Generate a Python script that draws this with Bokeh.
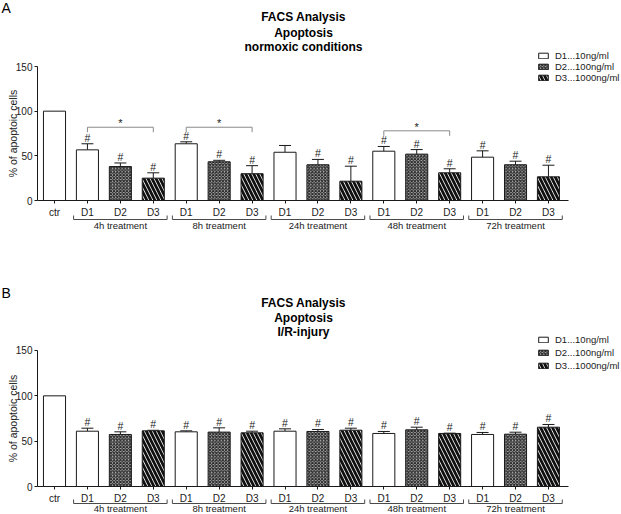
import numpy as np
from bokeh.plotting import figure
from bokeh.models import (ColumnDataSource, Whisker, TeeHead, FixedTicker, Legend,
                          LegendItem, Range1d)
from bokeh.layouts import column
from bokeh.embed import file_html
from bokeh.resources import INLINE
from bokeh.core.properties import value

# ---------------- data ----------------
bar_labels = ["ctr", "D1", "D2", "D3", "D1", "D2", "D3", "D1", "D2", "D3",
              "D1", "D2", "D3", "D1", "D2", "D3"]
doses = ["D1", "D2", "D3"]
dose_legend = ["D1...10ng/ml", "D2...100ng/ml", "D3...1000ng/ml"]
groups = ["4h treatment", "8h treatment", "24h treatment", "48h treatment", "72h treatment"]
y_ticks = [0, 50, 100, 150]
y_label = "% of apoptoic cells"

title_a = ["FACS Analysis", "Apoptosis", "normoxic conditions"]
a_mean = [100, 56.7, 38.0, 25.0, 63.5, 43.3, 30.0, 54.0, 40.0, 21.6, 55.2, 51.9, 31.0, 48.5, 40.0, 26.5]
a_err = [0, 6.8, 4.0, 6.0, 2.2, 1.7, 9.0, 7.6, 6.0, 16.8, 5.3, 5.1, 4.5, 7.1, 4.0, 13.0]
a_hash = [0, 1, 1, 1, 1, 1, 1, 0, 1, 1, 1, 1, 1, 1, 1, 1]
a_sig_from = [1, 4, 10]
a_sig_to = [3, 6, 12]
a_sig_y = [82, 82, 78]

title_b = ["FACS Analysis", "Apoptosis", "I/R-injury"]
b_mean = [100, 61.0, 57.4, 61.4, 60.3, 60.0, 59.2, 61.0, 60.7, 62.1, 58.5, 62.5, 58.5, 57.4, 57.7, 65.4]
b_err = [0, 3.3, 2.9, 0.6, 1.1, 4.7, 1.8, 2.6, 2.2, 2.2, 2.2, 2.9, 0.3, 2.2, 2.2, 3.0]
b_hash = [0, 1, 1, 1, 1, 1, 1, 1, 1, 1, 1, 1, 1, 1, 1, 1]
b_sig_from = []
b_sig_to = []
b_sig_y = []

# ---------------- styling ----------------
FONT = "Liberation Sans"
W = 620
PX = 32.93               # pixels per bar slot
CTR_PX = 54              # page x of first bar centre
X_START = -CTR_PX / PX
X_END = X_START + W / PX
Y_AXIS_X = (37 - CTR_PX) / PX
AXIS_END = (568 - CTR_PX) / PX
BAR_W = 0.67
INK = "#1a1a1a"

STYLE = {
    "ctr": dict(fill_color="white"),
    "D1": dict(fill_color="white"),
    "D2": dict(fill_color="#b8b8b8", hatch_pattern="diagonal_cross", hatch_scale=3.2,
               hatch_weight=1.2, hatch_color="#2a2a2a"),
    "D3": dict(fill_color="white", hatch_pattern="left_diagonal_line", hatch_scale=8,
               hatch_weight=2.8, hatch_color="#111111"),
}


def px_x(px):
    return (px - CTR_PX) / PX


def make_panel(letter, letter_px, titles, title_px, means, errs, hashes,
               sig_from, sig_to, sig_y, height, zero_px, scale, leg_top_px, leg_row_px,
               below_px):
    y_top = zero_px / scale
    y_bot = -(height - zero_px) / scale
    p = figure(width=W, height=height, output_backend="svg", toolbar_location=None,
               x_range=Range1d(X_START, X_END), y_range=Range1d(y_bot, y_top),
               min_border_left=0, min_border_right=0, min_border_top=0,
               min_border_bottom=0)
    p.outline_line_color = None
    p.grid.visible = False
    p.background_fill_color = "white"

    def v(px_below_zero):
        return -px_below_zero / scale

    idx = list(range(len(means)))
    kinds = ["ctr"] + doses * len(groups)
    renderers = {}
    for k in ["ctr"] + doses:
        sel = [i for i in idx if kinds[i] == k]
        src = ColumnDataSource(dict(x=sel, top=[means[i] for i in sel]))
        renderers[k] = p.vbar(x="x", top="top", bottom=0, width=BAR_W, source=src,
                              line_color=INK, line_width=1, **STYLE[k])

    # error bars (upper only)
    tr = [i for i in idx if kinds[i] != "ctr"]
    esrc = ColumnDataSource(dict(x=tr, top=[means[i] for i in tr],
                                 upper=[means[i] + errs[i] for i in tr]))
    wh = Whisker(source=esrc, base="x", upper="upper", lower="top", dimension="height",
                 line_color=INK, line_width=1, lower_head=None,
                 upper_head=TeeHead(size=12, line_color=INK, line_width=1))
    p.add_layout(wh)

    # significance marks '#'
    hs = [i for i in idx if hashes[i]]
    p.text(x=hs, y=[means[i] + errs[i] for i in hs], text=["#"] * len(hs),
           text_align="center", text_baseline="bottom", y_offset=0,
           text_font=value(FONT), text_font_size="10.5px", text_color=INK)

    # comparison brackets '*'
    for a, b, yy in zip(sig_from, sig_to, sig_y):
        p.segment(x0=[a, a, b], y0=[yy, yy, yy], x1=[b, a, b],
                  y1=[yy, yy - 5 / scale, yy - 5 / scale], line_color="#8a8a8a", line_width=1)
        p.text(x=[(a + b) / 2], y=[yy], text=["*"], text_align="center",
               text_baseline="bottom", y_offset=2, text_font=value(FONT),
               text_font_size="11px", text_color=INK)

    # group brackets below the axis
    tick_px, line_px, lab_px = below_px
    g_l = [1 + 3 * g - 0.42 for g in range(len(groups))]
    g_r = [3 + 3 * g + 0.42 for g in range(len(groups))]
    yb, yt = v(line_px), v(tick_px)
    p.segment(x0=g_l, y0=[yb] * len(groups), x1=g_r, y1=[yb] * len(groups),
              line_color="#4a4a4a", line_width=1)
    p.segment(x0=g_l + g_r, y0=[yb] * (2 * len(groups)), x1=g_l + g_r,
              y1=[yt] * (2 * len(groups)), line_color="#4a4a4a", line_width=1)
    p.text(x=[2 + 3 * g for g in range(len(groups))], y=[v(lab_px)] * len(groups), text=groups,
           text_align="center", text_baseline="middle", text_font=value(FONT),
           text_font_size="9.5px", text_color=INK)

    # titles
    p.text(x=[px_x(303)] * len(titles), y=[(zero_px - t) / scale for t in title_px],
           text=titles, text_align="center", text_baseline="middle", text_font=value(FONT),
           text_font_style="bold", text_font_size="12px", text_color="black")

    # panel letter
    p.text(x=[px_x(1)], y=[(zero_px - letter_px) / scale], text=[letter],
           text_align="left", text_baseline="middle", text_font=value(FONT),
           text_font_size="14px", text_color="black")

    # y axis title (rotated)
    p.text(x=[px_x(12)], y=[(y_ticks[0] + y_ticks[-1]) / 2], text=[y_label],
           angle=np.pi / 2, text_align="center", text_baseline="middle",
           text_font=value(FONT), text_font_size="10.5px", text_color=INK)

    # x axis at y = 0
    xa = p.xaxis[0]
    xa.fixed_location = 0
    xa.ticker = FixedTicker(ticks=idx)
    xa.major_label_overrides = {i: bar_labels[i] for i in idx}
    xa.bounds = (Y_AXIS_X, AXIS_END)
    xa.major_tick_out = 3
    xa.major_tick_in = 0
    xa.minor_tick_out = 0
    xa.minor_tick_in = 0
    xa.major_label_standoff = 3
    xa.axis_line_color = INK
    xa.major_tick_line_color = INK
    xa.major_label_text_font = FONT
    xa.major_label_text_font_size = "10px"
    xa.major_label_text_color = INK

    # y axis at the left end of the baseline
    ya = p.yaxis[0]
    ya.fixed_location = Y_AXIS_X
    ya.ticker = FixedTicker(ticks=y_ticks)
    ya.bounds = (y_ticks[0], y_ticks[-1])
    ya.major_tick_out = 3
    ya.major_tick_in = 0
    ya.minor_tick_out = 0
    ya.minor_tick_in = 0
    ya.major_label_standoff = 2
    ya.axis_line_color = INK
    ya.major_tick_line_color = INK
    ya.major_label_text_font = FONT
    ya.major_label_text_font_size = "10px"
    ya.major_label_text_color = INK

    # legend
    leg_y = int(round(height - (leg_top_px + 3 * leg_row_px)))
    legend = Legend(items=[LegendItem(label=dose_legend[i], renderers=[renderers[d]])
                           for i, d in enumerate(doses)],
                    location=(537, leg_y), orientation="vertical",
                    glyph_width=12, glyph_height=7, label_height=leg_row_px,
                    label_width=60, label_standoff=6, spacing=0, padding=0, margin=0,
                    label_text_font=FONT, label_text_font_size="9.5px",
                    label_text_color=INK, border_line_color=None,
                    background_fill_alpha=0)
    p.add_layout(legend)
    return p


pA = make_panel("A", 7, title_a, [16, 32, 46], a_mean, a_err, a_hash,
                a_sig_from, a_sig_to, a_sig_y, height=240, zero_px=200, scale=0.8933,
                leg_top_px=50, leg_row_px=11, below_px=(15, 19, 25))
pB = make_panel("B", 52, title_b, [62, 77, 91], b_mean, b_err, b_hash,
                b_sig_from, b_sig_to, b_sig_y, height=273, zero_px=246, scale=0.9067,
                leg_top_px=93, leg_row_px=13, below_px=(13, 17, 22))

layout = column(pA, pB, spacing=0)
open("out.html", "w").write(file_html(layout, INLINE))
